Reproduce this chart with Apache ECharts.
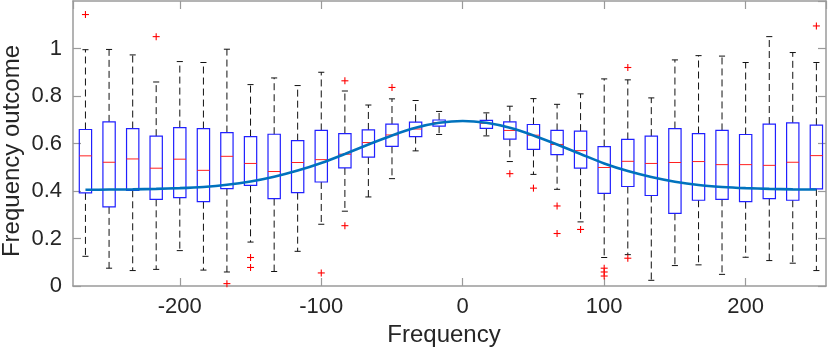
<!DOCTYPE html>
<html>
<head>
<meta charset="utf-8">
<script src="https://cdn.jsdelivr.net/npm/echarts@6/dist/echarts.min.js"></script>
<style>
  html, body { margin: 0; padding: 0; background: #fff; }
  #chart { width: 830px; height: 353px; }
</style>
</head>
<body>
<div id="chart"></div>
<script>
// box centres on the frequency axis
const positions = [-266.7, -250, -233.3, -216.7, -200, -183.3, -166.7, -150, -133.3, -116.7, -100, -83.3, -66.7, -50, -33.3, -16.7,
  16.7, 33.3, 50, 66.7, 83.3, 100, 116.7, 133.3, 150, 166.7, 183.3, 200, 216.7, 233.3, 250];

const whiskerHigh = [0.995, 0.996, 0.973, 0.859, 0.945, 0.941, 0.997, 0.848, 0.876, 0.844, 0.900, 0.821, 0.762, 0.788, 0.781, 0.735,
  0.729, 0.757, 0.789, 0.765, 0.809, 0.872, 0.868, 0.792, 0.952, 0.970, 0.968, 0.941, 1.050, 0.983, 0.941];
const q3 = [0.659, 0.691, 0.663, 0.631, 0.667, 0.663, 0.646, 0.629, 0.639, 0.612, 0.655, 0.642, 0.657, 0.682, 0.690, 0.699,
  0.697, 0.691, 0.680, 0.655, 0.652, 0.587, 0.617, 0.631, 0.663, 0.642, 0.655, 0.638, 0.682, 0.687, 0.677];
const medians = [0.548, 0.521, 0.535, 0.496, 0.534, 0.487, 0.546, 0.516, 0.482, 0.520, 0.532, 0.555, 0.604, 0.636, 0.661, 0.688,
  0.685, 0.655, 0.635, 0.596, 0.570, 0.499, 0.525, 0.516, 0.520, 0.524, 0.511, 0.511, 0.508, 0.521, 0.549];
const q1 = [0.392, 0.333, 0.403, 0.365, 0.372, 0.355, 0.410, 0.424, 0.368, 0.393, 0.438, 0.497, 0.543, 0.588, 0.629, 0.673,
  0.664, 0.618, 0.575, 0.553, 0.496, 0.390, 0.419, 0.381, 0.306, 0.361, 0.365, 0.355, 0.368, 0.361, 0.409];
const whiskerLow = [0.125, 0.075, 0.065, 0.070, 0.149, 0.067, 0.059, 0.185, 0.061, 0.146, 0.260, 0.315, 0.375, 0.452, 0.569, 0.638,
  0.632, 0.524, 0.470, 0.407, 0.270, 0.120, 0.132, 0.024, 0.086, 0.089, 0.049, 0.121, 0.107, 0.096, 0.065];

// outliers [frequency, value]
const outliers = [
  [-266.7, 1.143], [-216.7, 1.05], [-166.7, 0.010], [-150, 0.120], [-150, 0.078], [-100, 0.055],
  [-83.3, 0.864], [-83.3, 0.254], [-50, 0.836], [33.3, 0.473], [50, 0.412], [66.7, 0.337], [66.7, 0.221],
  [83.3, 0.238], [100, 0.075], [100, 0.059], [100, 0.042], [116.7, 0.920], [116.7, 0.117], [250, 1.095]
];

// fitted curve
const fitX = [-266.7, -250, -233.3, -216.7, -200, -183.3, -166.7, -150, -133.3, -116.7, -100, -83.3, -66.7, -50, -33.3, -16.7, 0,
  16.7, 33.3, 50, 66.7, 83.3, 100, 116.7, 133.3, 150, 166.7, 183.3, 200, 216.7, 233.3, 250];
const fitY = [0.405, 0.406, 0.407, 0.409, 0.412, 0.417, 0.426, 0.440, 0.460, 0.486, 0.518, 0.556, 0.596, 0.634, 0.666, 0.687, 0.695,
  0.687, 0.666, 0.634, 0.596, 0.556, 0.516, 0.484, 0.459, 0.439, 0.425, 0.417, 0.412, 0.409, 0.407, 0.406, 0.405];

const chart = echarts.init(document.getElementById('chart'));

const boxData = positions.map((p, i) => [p, whiskerLow[i], q1[i], medians[i], q3[i], whiskerHigh[i]]);
const fitData = fitX.map((x, i) => [x, fitY[i]]);

const BOX_W = 8.7;  // in frequency units
const CAP_W = 4.3;
const FONT = "'Liberation Sans', Arial, sans-serif";
const AXIS_COLOR = '#9a9a9a';

function seg(p1, p2, style) {
  return { type: 'line', shape: { x1: p1[0], y1: p1[1], x2: p2[0], y2: p2[1] }, style: style };
}

function renderBox(params, api) {
  const x = api.value(0);
  const lo = api.value(1), b1 = api.value(2), md = api.value(3), b3 = api.value(4), hi = api.value(5);
  const c = (xx, yy) => api.coord([xx, yy]);
  const dash = { stroke: '#111', lineWidth: 1, lineDash: [7, 4] };
  const black = { stroke: '#111', lineWidth: 1 };
  const tl = c(x - BOX_W / 2, b3), br = c(x + BOX_W / 2, b1);
  return {
    type: 'group',
    children: [
      seg(c(x, b3), c(x, hi), dash),
      seg(c(x, b1), c(x, lo), dash),
      seg(c(x - CAP_W / 2, hi), c(x + CAP_W / 2, hi), black),
      seg(c(x - CAP_W / 2, lo), c(x + CAP_W / 2, lo), black),
      { type: 'rect', shape: { x: tl[0], y: tl[1], width: br[0] - tl[0], height: br[1] - tl[1] },
        style: { fill: 'none', stroke: '#2020ff', lineWidth: 1.2 } },
      seg(c(x - BOX_W / 2, md), c(x + BOX_W / 2, md), { stroke: '#ff2020', lineWidth: 1 })
    ]
  };
}

function renderPlus(params, api) {
  const p = api.coord([api.value(0), api.value(1)]);
  const r = 3.5;
  const st = { stroke: '#ff0000', lineWidth: 1.1 };
  return {
    type: 'group',
    children: [
      seg([p[0] - r, p[1]], [p[0] + r, p[1]], st),
      seg([p[0], p[1] - r], [p[0], p[1] + r], st)
    ]
  };
}

const xBase = {
  type: 'value',
  min: -275.5,
  max: 256.8,
  splitLine: { show: false },
  axisLine: { onZero: false, lineStyle: { color: AXIS_COLOR, width: 1.5 } },
  axisTick: { inside: true, length: 8, lineStyle: { color: AXIS_COLOR, width: 1.2 } }
};
const yBase = {
  type: 'value',
  min: 0,
  max: 1.2,
  interval: 0.2,
  splitLine: { show: false },
  axisLine: { onZero: false, lineStyle: { color: AXIS_COLOR, width: 1.5 } },
  axisTick: { inside: true, length: 8, lineStyle: { color: AXIS_COLOR, width: 1.2 } }
};

chart.setOption({
  animation: false,
  grid: { left: 73, right: 4, top: 1, bottom: 67 },
  xAxis: [
    Object.assign({}, xBase, {
      position: 'bottom',
      axisLabel: { fontSize: 22, color: '#262626', fontFamily: FONT, margin: 10, showMinLabel: false, showMaxLabel: false }
    }),
    Object.assign({}, xBase, { position: 'top', axisLabel: { show: false } })
  ],
  yAxis: [
    Object.assign({}, yBase, {
      position: 'left',
      axisLabel: { fontSize: 22, color: '#262626', fontFamily: FONT, margin: 11, showMaxLabel: false }
    }),
    Object.assign({}, yBase, { position: 'right', axisLabel: { show: false } })
  ],
  series: [
    {
      type: 'custom',
      renderItem: renderBox,
      data: boxData,
      encode: { x: 0, y: [1, 2, 3, 4, 5] },
      z: 2
    },
    {
      type: 'custom',
      renderItem: renderPlus,
      data: outliers,
      encode: { x: 0, y: 1 },
      z: 3
    },
    {
      type: 'line',
      data: fitData,
      smooth: 0.3,
      showSymbol: false,
      lineStyle: { color: '#0072BD', width: 2.6 },
      z: 4
    }
  ],
  graphic: [
    {
      type: 'text',
      x: 444,
      y: 335,
      style: { text: 'Frequency', font: "24px " + FONT, fill: '#262626', align: 'center', verticalAlign: 'middle' }
    },
    {
      type: 'text',
      x: 12,
      y: 151,
      rotation: Math.PI / 2,
      style: { text: 'Frequency outcome', font: "24px " + FONT, fill: '#262626', align: 'center', verticalAlign: 'middle' }
    }
  ]
});
</script>
</body>
</html>
